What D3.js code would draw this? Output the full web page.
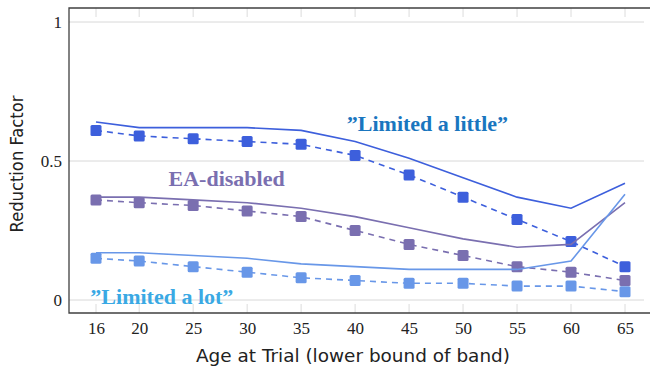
<!DOCTYPE html>
<html><head><meta charset="utf-8">
<script src="https://cdn.jsdelivr.net/npm/d3@7"></script>
<style>body{margin:0;background:#fff}svg{display:block}</style>
</head><body><svg id="c" width="650" height="366"></svg>
<script>
const ages = [16,20,25,30,35,40,45,50,55,60,65];
const littleSolid = [0.64,0.62,0.62,0.62,0.61,0.57,0.51,0.44,0.37,0.33,0.42];
const littleDash  = [0.61,0.59,0.58,0.57,0.56,0.52,0.45,0.37,0.29,0.21,0.12];
const eaSolid     = [0.37,0.37,0.36,0.35,0.33,0.30,0.26,0.22,0.19,0.20,0.35];
const eaDash      = [0.36,0.35,0.34,0.32,0.30,0.25,0.20,0.16,0.12,0.10,0.07];
const lotSolid    = [0.17,0.17,0.16,0.15,0.13,0.12,0.11,0.11,0.11,0.14,0.38];
const lotDash     = [0.15,0.14,0.12,0.10,0.08,0.07,0.06,0.06,0.05,0.05,0.03];
const yTicks = [0,0.5,1];
const yTickLabels = ["0","0.5","1"];

const series = [
  {solid: littleSolid, dash: littleDash, color:"#3d5fdc", label:"\u201dLimited a little\u201d", lc:"#1a76bf", lx:46.7, ly:0.607},
  {solid: eaSolid, dash: eaDash, color:"#7a6fb0", label:"EA-disabled", lc:"#7a6fb0", lx:28.1, ly:0.41},
  {solid: lotSolid, dash: lotDash, color:"#6897e8", label:"\u201dLimited a lot\u201d", lc:"#3aa9e4", lx:22.1, ly:-0.015}
];

const svg = d3.select("#c");
const L=69, R=651, T=8, B=313;
const x = d3.scaleLinear().domain([16,65]).range([96,625]);
const y = d3.scaleLinear().domain([0,1]).range([300,22]);

// grid
svg.append("g").selectAll("line").data(yTicks).join("line")
  .attr("x1",L).attr("x2",644).attr("y1",d=>y(d)).attr("y2",d=>y(d))
  .attr("stroke","#d8d8d8").attr("stroke-width",1);
// x tick marks top & bottom
const tk = svg.append("g");
tk.selectAll("line.t").data(ages).join("line").attr("class","t")
  .attr("x1",d=>x(d)).attr("x2",d=>x(d)).attr("y1",T).attr("y2",T+9)
  .attr("stroke","#dcdcdc");
tk.selectAll("line.b").data(ages).join("line").attr("class","b")
  .attr("x1",d=>x(d)).attr("x2",d=>x(d)).attr("y1",B).attr("y2",B-9)
  .attr("stroke","#dcdcdc");

// frame
svg.append("path").attr("d",`M${R},${T}H${L}V${B}H${R}`).attr("fill","none")
  .attr("stroke","#404040").attr("stroke-width",1.3);

// axes labels
const gx = svg.append("g").attr("transform",`translate(0,${B})`)
  .call(d3.axisBottom(x).tickValues(ages).tickSize(0).tickPadding(9).tickFormat(d3.format("d")));
gx.select(".domain").remove();
gx.selectAll("text").attr("font-family","Liberation Serif").attr("font-size",17).attr("fill","#222");
const gy = svg.append("g").attr("transform",`translate(${L},0)`)
  .call(d3.axisLeft(y).tickValues(yTicks).tickSize(0).tickPadding(7).tickFormat((d,i)=>yTickLabels[i]));
gy.select(".domain").remove();
gy.selectAll("text").attr("font-family","Liberation Serif").attr("font-size",17).attr("fill","#222");

svg.append("text").attr("x",353).attr("y",362).attr("text-anchor","middle")
  .attr("font-family","DejaVu Sans").attr("font-size",17).attr("fill","#222")
  .attr("textLength",314).attr("lengthAdjust","spacingAndGlyphs")
  .text("Age at Trial (lower bound of band)");
svg.append("text").attr("transform","translate(23,164) rotate(-90)").attr("text-anchor","middle")
  .attr("font-family","DejaVu Sans").attr("font-size",17).attr("fill","#222")
  .attr("textLength",137).attr("lengthAdjust","spacingAndGlyphs")
  .text("Reduction Factor");

const line = d3.line().x((d,i)=>x(ages[i])).y(d=>y(d));
series.forEach(s=>{
  svg.append("path").attr("d",line(s.solid)).attr("fill","none").attr("stroke",s.color).attr("stroke-width",1.6);
  svg.append("path").attr("d",line(s.dash)).attr("fill","none").attr("stroke",s.color).attr("stroke-width",1.6).attr("stroke-dasharray","6,5");
  svg.append("g").selectAll("rect").data(s.dash).join("rect")
    .attr("x",(d,i)=>x(ages[i])-5.5).attr("y",d=>y(d)-5.5).attr("width",11).attr("height",11).attr("rx",1.5)
    .attr("fill",s.color);
  svg.append("text").attr("x",x(s.lx)).attr("y",y(s.ly)).attr("text-anchor","middle")
    .attr("font-family","Liberation Serif").attr("font-weight","bold").attr("font-size",22)
    .attr("fill",s.lc).text(s.label);
});
</script></body></html>
